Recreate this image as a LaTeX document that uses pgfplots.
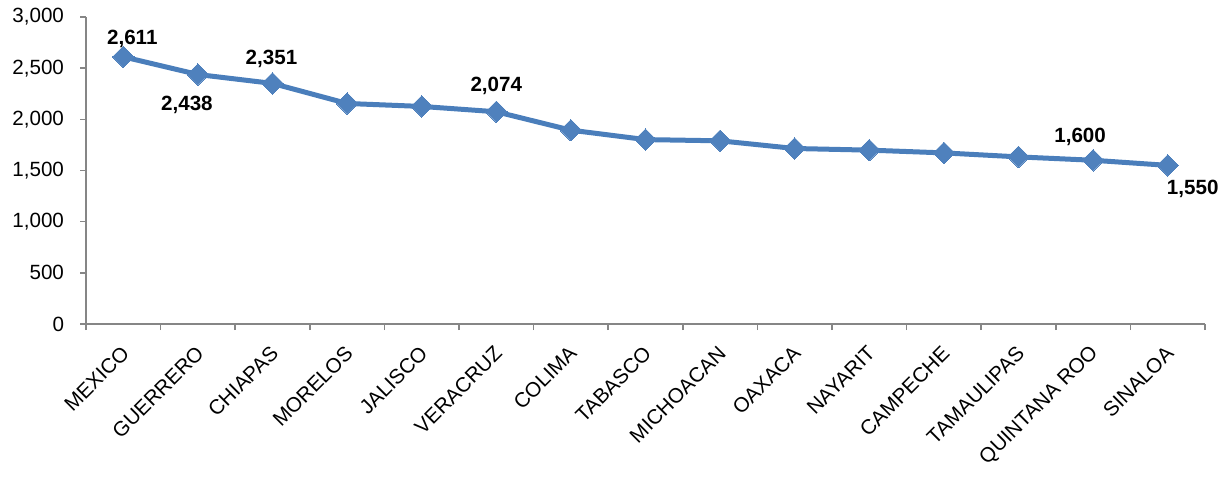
\documentclass[border=0pt]{standalone}
\usepackage{fontspec}
\setmainfont{Liberation Sans}
\usepackage{pgfplots}
\pgfplotsset{compat=1.18}
\usepackage{pgfplotstable}
\definecolor{lineblue}{HTML}{4A7EBB}
\definecolor{markblue}{HTML}{4F81BD}
\definecolor{axisgray}{HTML}{868686}

\pgfplotstableread{
x y
0.5 2611
1.5 2438
2.5 2351
3.5 2155
4.5 2126
5.5 2074
6.5 1894
7.5 1802
8.5 1790
9.5 1715
10.5 1699
11.5 1672
12.5 1633
13.5 1600
14.5 1550
}\datatable

\pgfplotstableread{
x y dx dy
0.5 2611 4.5 9
1.5 2438 -5.5 -15
2.5 2351 -0.5 12.5
5.5 2074 0 12.8
13.5 1600 -6.5 11.5
14.5 1550 12.5 -12
}\labeltable

\begin{document}
\begin{tikzpicture}
\useasboundingbox (0,0) rectangle (615bp,239bp);
\begin{axis}[
  at={(43bp,77bp)}, anchor=south west, scale only axis,
  width=559.5bp, height=153.5bp,
  xmin=0, xmax=15, ymin=0, ymax=3000,
  clip=false,
  axis lines=left,
  axis line style={-, draw=axisgray, line width=0.75bp},
  xtick={0,...,15},
  x tick label as interval,
  xticklabels={MEXICO,GUERRERO,CHIAPAS,MORELOS,JALISCO,VERACRUZ,COLIMA,TABASCO,MICHOACAN,OAXACA,NAYARIT,CAMPECHE,TAMAULIPAS,QUINTANA ROO,SINALOA},
  ytick={0,500,...,3000},
  tick style={draw=axisgray, line width=0.75bp},
  major tick length=3bp,
  tick align=outside,
  tick label style={font=\fontsize{10.3bp}{12bp}\selectfont, text=black},
  xticklabel style={xshift=3.5bp, rotate=45, anchor=east},
  xticklabel shift=7.5bp,
  yticklabel shift=4.5bp,
  /pgf/number format/.cd, 1000 sep={,}, assume math mode=true,
]
\addplot[lineblue, line width=2.5bp, mark=square*, mark size=3.8bp,
  mark options={rotate=45, fill=markblue, draw=markblue, line width=0pt}]
  table[x=x,y=y]{\datatable};
\addplot[draw=none, mark=none, nodes near coords, point meta=explicit,
  visualization depends on={\thisrow{dx} \as \dx},
  visualization depends on={\thisrow{dy} \as \dy},
  every node near coord/.append style={anchor=center, xshift=\dx bp, yshift=\dy bp,
    font=\bfseries\fontsize{10.3bp}{12bp}\selectfont, text=black}]
  table[x=x,y=y,meta=y]{\labeltable};
\end{axis}
\end{tikzpicture}
\end{document}
